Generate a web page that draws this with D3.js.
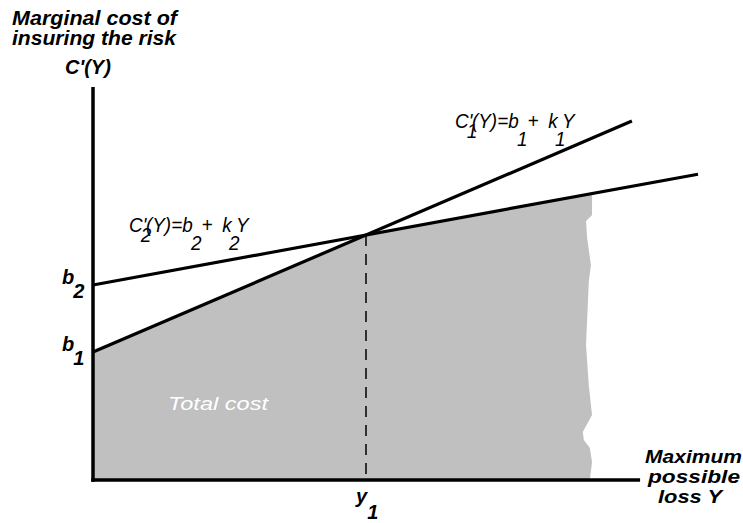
<!DOCTYPE html>
<html>
<head>
<meta charset="utf-8">
<script src="https://d3js.org/d3.v7.min.js"></script>
<style>
  html, body { margin: 0; padding: 0; background: #fff; }
  svg { display: block; }
  text { font-family: "Liberation Sans", Arial, Helvetica, sans-serif; }
</style>
</head>
<body>
<script>
// ---- data ----
const lineIds = ["1", "2"];
const intercepts = [12.8, 19.5];      // b1, b2
const slopes = [2.34, 1.0];           // k1, k2
const lineEndX = [9.87, 11.08];       // where each drawn line stops
const y1Value = 5;                    // intersection Y = y1
const axisMaxX = 10.02;
const axisMaxY = 39.3;
// ragged right edge of the shaded "Total cost" area
const edgeX = [9.14, 9.14, 9.03, 9.05, 9.12, 9.08, 9.07, 9.03, 9.08, 9.14, 8.97, 8.99, 9.10, 9.14, 9.10];
const edgeY = [28.64, 26.5, 25.9, 24.2, 21.5, 19.8, 18.5, 13.5, 9.5, 6.5, 4.8, 4.0, 3.2, 1.8, 0];

const W = 743, H = 523;
const svg = d3.select("body").append("svg").attr("width", W).attr("height", H);

const x = d3.scaleLinear().domain([0, 10]).range([93, 639]);
const y = d3.scaleLinear().domain([0, 40]).range([480, 80]);

const lineVal = (i, v) => intercepts[i] + slopes[i] * v;
const lower = v => Math.min(lineVal(0, v), lineVal(1, v));

// ---- shaded area ----
const shadePts = [[0, 0], [0, lower(0)], [y1Value, lower(y1Value)]];
edgeX.forEach((ex, i) => shadePts.push([ex, edgeY[i]]));
svg.append("path")
  .attr("d", d3.line().x(d => x(d[0])).y(d => y(d[1]))(shadePts) + "Z")
  .attr("fill", "#c0c0c0");

// ---- dashed guide at y1 ----
svg.append("line")
  .attr("x1", x(y1Value)).attr("x2", x(y1Value))
  .attr("y1", y(lower(y1Value))).attr("y2", y(0))
  .attr("stroke", "#000").attr("stroke-width", 1.5)
  .attr("stroke-dasharray", "11,8");

// ---- marginal cost lines ----
lineIds.forEach((id, i) => {
  svg.append("path")
    .attr("d", d3.line().x(d => x(d[0])).y(d => y(d[1]))([[0, lineVal(i, 0)], [lineEndX[i], lineVal(i, lineEndX[i])]]))
    .attr("stroke", "#000").attr("stroke-width", 3.2).attr("fill", "none");
});

// ---- axes ----
svg.append("line")
  .attr("x1", x(0)).attr("x2", x(0)).attr("y1", y(axisMaxY)).attr("y2", y(0) + 1.75)
  .attr("stroke", "#000").attr("stroke-width", 3.5);
svg.append("line")
  .attr("x1", x(0) - 1.75).attr("x2", x(axisMaxX)).attr("y1", y(0)).attr("y2", y(0))
  .attr("stroke", "#000").attr("stroke-width", 3.5);

// ---- text ----
function bi(sel) { return sel.attr("font-style", "italic").attr("font-weight", "bold").attr("fill", "#000"); }

bi(svg.append("text")).attr("x", 12).attr("y", 25).attr("font-size", 21)
  .attr("textLength", 165).attr("lengthAdjust", "spacingAndGlyphs").text("Marginal cost of");
bi(svg.append("text")).attr("x", 12).attr("y", 45).attr("font-size", 21)
  .attr("textLength", 164).attr("lengthAdjust", "spacingAndGlyphs").text("insuring the risk");
bi(svg.append("text")).attr("x", 65).attr("y", 74).attr("font-size", 20).text("C'(Y)");

bi(svg.append("text")).attr("x", 645).attr("y", 463).attr("font-size", 19)
  .attr("textLength", 97).attr("lengthAdjust", "spacingAndGlyphs").text("Maximum");
bi(svg.append("text")).attr("x", 648).attr("y", 483).attr("font-size", 19)
  .attr("textLength", 92).attr("lengthAdjust", "spacingAndGlyphs").text("possible");
bi(svg.append("text")).attr("x", 658).attr("y", 503).attr("font-size", 19)
  .attr("textLength", 64).attr("lengthAdjust", "spacingAndGlyphs").text("loss Y");

// b labels on Y axis
lineIds.forEach((id, i) => {
  const t = bi(svg.append("text")).attr("x", 62).attr("y", y(intercepts[i]) - 1).attr("font-size", 20);
  t.append("tspan").text("b");
  t.append("tspan").attr("dx", -1).attr("dy", 14).text(id);
});

// y1 label on X axis
{
  const t = bi(svg.append("text")).attr("x", x(y1Value) - 10).attr("y", 503).attr("font-size", 20);
  t.append("tspan").text("y");
  t.append("tspan").attr("dx", 0).attr("dy", 16).text("1");
}

// equation labels
function equation(x0, y0, n) {
  const t = svg.append("text").attr("x", 0).attr("y", 0)
    .attr("transform", `translate(${x0},${y0}) scale(0.9,1)`)
    .attr("font-style", "italic").attr("font-size", 21).attr("fill", "#000");
  t.append("tspan").text("C'");
  t.append("tspan").attr("dx", -6).attr("dy", 10).text(n);
  t.append("tspan").attr("dx", -6).attr("dy", -10).text("(Y)=b");
  t.append("tspan").attr("dx", -2).attr("dy", 18).text(n);
  t.append("tspan").attr("dy", -18).text("+");
  t.append("tspan").attr("dx", 11).text("k");
  t.append("tspan").attr("dx", -3).attr("dy", 18).text(n);
  t.append("tspan").attr("dx", -4).attr("dy", -18).text("Y");
}
equation(455, 128, lineIds[0]);
equation(129, 232, lineIds[1]);

svg.append("text").attr("x", 168).attr("y", 410).attr("font-size", 19)
  .attr("font-style", "italic").attr("fill", "#fff")
  .attr("textLength", 100).attr("lengthAdjust", "spacingAndGlyphs").text("Total cost");
</script>
</body>
</html>
